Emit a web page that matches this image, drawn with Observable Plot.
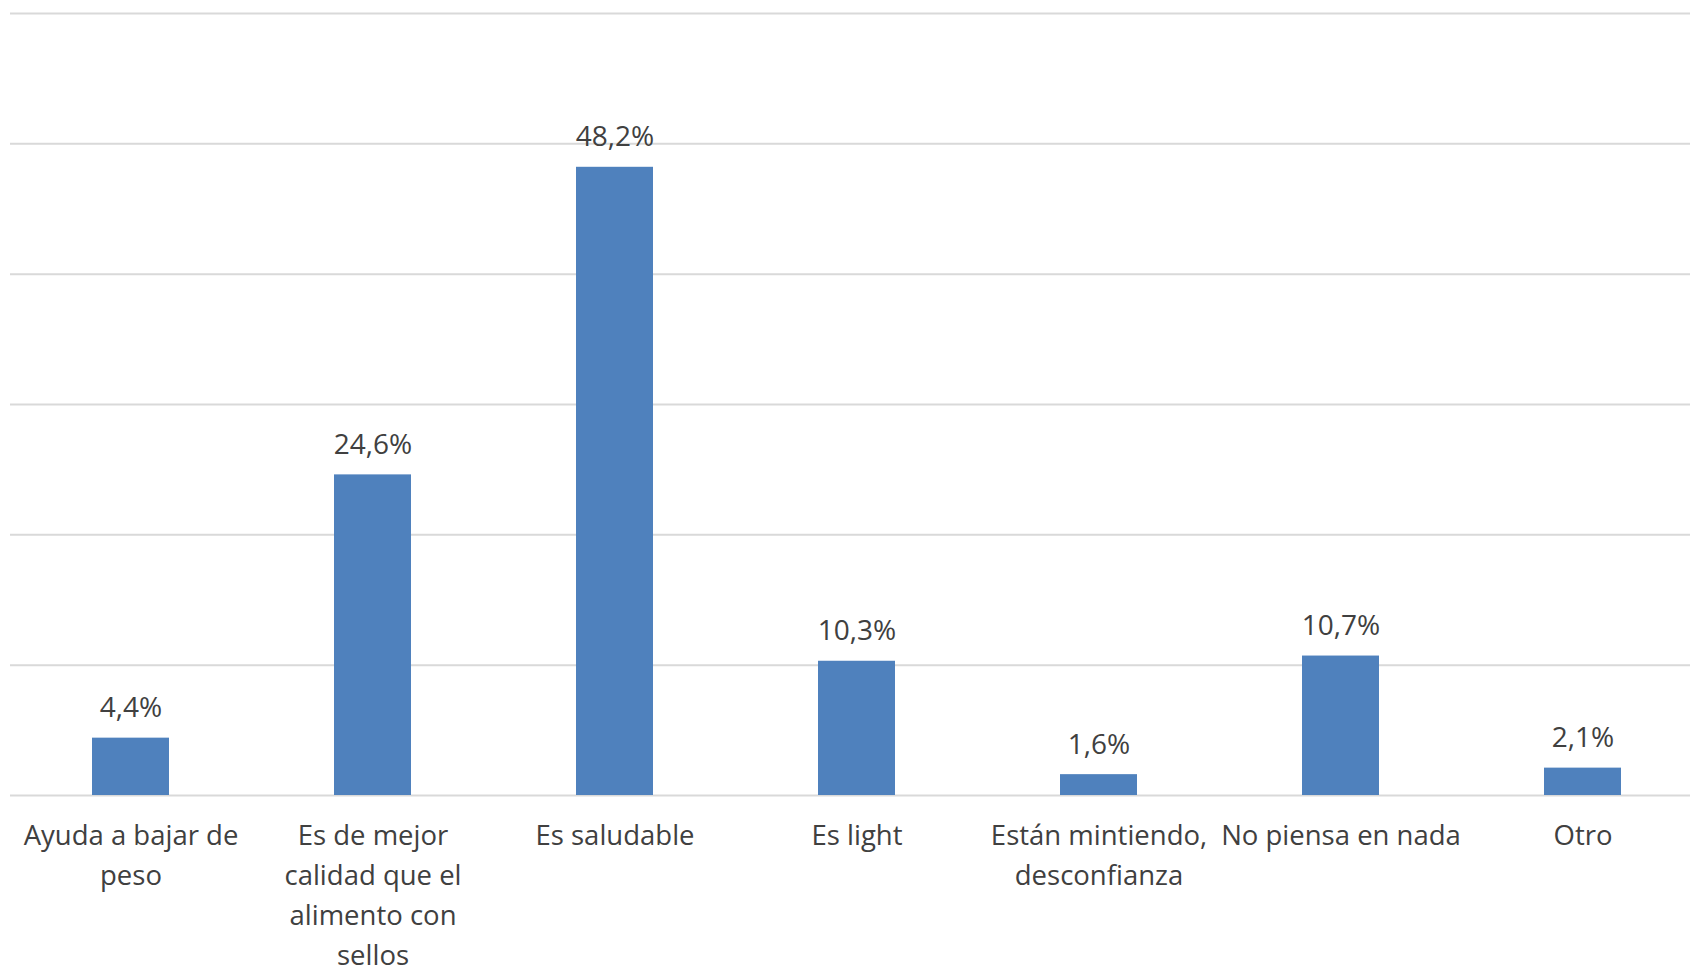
<!DOCTYPE html>
<html>
<head>
<meta charset="utf-8">
<script src="https://cdn.jsdelivr.net/npm/d3@7"></script>
<script src="https://cdn.jsdelivr.net/npm/@observablehq/plot@0.6"></script>
<style>
  html, body { margin: 0; padding: 0; background: #fff; overflow: hidden; }
  #chart svg { display: block; }
</style>
</head>
<body>
<div id="chart"></div>
<script>
// Categories (with manual line breaks for the wrapped axis labels)
const categories = [
  "Ayuda a bajar de\npeso",
  "Es de mejor\ncalidad que el\nalimento con\nsellos",
  "Es saludable",
  "Es light",
  "Están mintiendo,\ndesconfianza",
  "No piensa en nada",
  "Otro"
];
// Share of respondents, in percent
const values = [4.4, 24.6, 48.2, 10.3, 1.6, 10.7, 2.1];
// Gridline positions (percent)
const gridTicks = [0, 10, 20, 30, 40, 50, 60];

const data = categories.map((c, i) => ({category: c, value: values[i]}));
const fmt = v => v.toFixed(1).replace(".", ",") + "%";

const font = "'Open Sans', Lato, sans-serif";

const chart = Plot.plot({
  width: 1690,
  height: 966,
  marginLeft: 10,
  marginRight: 0,
  marginTop: 13,
  marginBottom: 171,
  style: {fontFamily: font, background: "#fff", overflow: "visible"},
  x: {domain: categories, range: [8, 1705], paddingInner: 0.68, paddingOuter: 0.34, axis: null},
  y: {domain: [0, 60], axis: null},
  marks: [
    Plot.ruleY(gridTicks, {stroke: "#d9d9d9", strokeWidth: 2}),
    Plot.barY(data, {x: "category", y: "value", fill: "#4f81bd"}),
    Plot.text(data, {
      x: "category", y: "value", text: d => fmt(d.value),
      lineAnchor: "bottom", dy: -21, fontSize: 28, fill: "#404040"
    }),
    Plot.text(data, {
      x: "category", y: 0, text: "category",
      lineAnchor: "top", dy: 21, fontSize: 27.5, lineHeight: 1.455, fill: "#404040"
    })
  ]
});

document.getElementById("chart").appendChild(chart);
</script>
</body>
</html>
